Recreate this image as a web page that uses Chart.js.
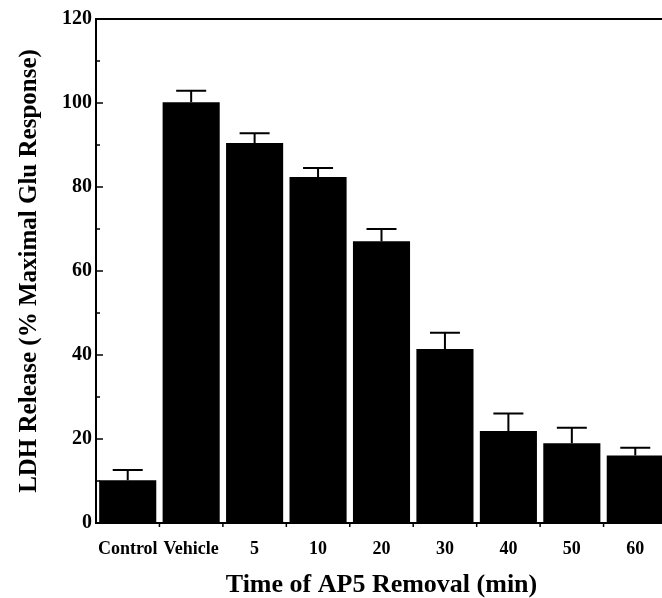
<!DOCTYPE html>
<html>
<head>
<meta charset="utf-8">
<script src="https://cdn.jsdelivr.net/npm/chart.js@4.4.1/dist/chart.umd.min.js"></script>
<style>
  html, body { margin: 0; padding: 0; overflow: hidden; background: #fff; }
  #wrap { width: 668px; height: 598px; }
</style>
</head>
<body>
<div id="wrap"><canvas id="myChart" width="668" height="598"></canvas></div>
<script>
// Datos
const categorias = ["Control", "Vehicle", "5", "10", "20", "30", "40", "50", "60"];
const valores = [10.2, 100.2, 90.5, 82.4, 67.1, 41.4, 21.9, 19.0, 16.1];
const errores = [2.4, 2.7, 2.3, 2.1, 2.9, 3.9, 4.2, 3.7, 1.8];
const ticksMayores = [0, 20, 40, 60, 80, 100, 120];
const ticksMenores = [10, 30, 50, 70, 90, 110];

const fuente = "'Liberation Serif', 'Times New Roman', serif";

// barras de error (solo hacia arriba)
const pluginErrores = {
  id: "errores",
  afterDatasetsDraw(chart) {
    const ctx = chart.ctx;
    const y = chart.scales.y;
    const meta = chart.getDatasetMeta(0);
    ctx.save();
    ctx.strokeStyle = "#000";
    ctx.lineWidth = 2;
    meta.data.forEach((bar, i) => {
      const yArriba = y.getPixelForValue(valores[i] + errores[i]);
      ctx.beginPath();
      ctx.moveTo(bar.x, bar.y);
      ctx.lineTo(bar.x, yArriba);
      ctx.moveTo(bar.x - 15, yArriba);
      ctx.lineTo(bar.x + 15, yArriba);
      ctx.stroke();
    });
    ctx.restore();
  },
};

// marco superior y ticks hacia dentro
const pluginMarco = {
  id: "marco",
  afterDraw(chart) {
    const ctx = chart.ctx;
    const area = chart.chartArea;
    const x = chart.scales.x;
    const y = chart.scales.y;
    ctx.save();
    ctx.strokeStyle = "#000";
    ctx.lineWidth = 2;
    ctx.beginPath();
    ctx.moveTo(area.left - 1, area.top);
    ctx.lineTo(chart.width, area.top);
    ctx.stroke();

    ctx.lineWidth = 1.5;
    ctx.beginPath();
    ticksMayores.forEach((v) => {
      const py = y.getPixelForValue(v);
      ctx.moveTo(area.left, py);
      ctx.lineTo(area.left + 7, py);
    });
    ticksMenores.forEach((v) => {
      const py = y.getPixelForValue(v);
      ctx.moveTo(area.left, py);
      ctx.lineTo(area.left + 4, py);
    });
    // ticks entre categorias
    for (let i = 0; i < categorias.length - 1; i++) {
      const px = (x.getPixelForValue(i) + x.getPixelForValue(i + 1)) / 2;
      ctx.moveTo(px, area.bottom);
      ctx.lineTo(px, area.bottom + 4);
    }
    ctx.stroke();
    ctx.restore();
  },
};

const ctx = document.getElementById("myChart").getContext("2d");

new Chart(ctx, {
  type: "bar",
  data: {
    labels: categorias,
    datasets: [
      {
        data: valores,
        backgroundColor: "#000",
        borderWidth: 0,
        barPercentage: 0.9,
        categoryPercentage: 1.0,
      },
    ],
  },
  options: {
    responsive: false,
    animation: false,
    devicePixelRatio: 1,
    layout: { padding: { top: 19, right: 1, bottom: 0, left: 0 } },
    plugins: {
      legend: { display: false },
      tooltip: { enabled: false },
    },
    scales: {
      x: {
        grid: { display: false, drawTicks: false },
        border: { display: true, color: "#000", width: 2 },
        ticks: {
          color: "#000",
          padding: 16,
          maxRotation: 0,
          autoSkip: false,
          font: { family: fuente, size: 18, weight: "bold" },
        },
        title: {
          display: true,
          text: "Time of AP5 Removal (min)",
          color: "#000",
          font: { family: fuente, size: 26, weight: "bold", lineHeight: 1 },
          padding: { top: 0, bottom: 0 },
        },
        afterFit: (s) => { s.height = 75; },
      },
      y: {
        min: 0,
        max: 120,
        grid: { display: false, drawTicks: false },
        border: { display: true, color: "#000", width: 2 },
        ticks: {
          stepSize: 20,
          color: "#000",
          padding: 4,
          font: { family: fuente, size: 20, weight: "bold" },
        },
        title: {
          display: true,
          text: "LDH Release (% Maximal Glu Response)",
          color: "#000",
          font: { family: fuente, size: 25, weight: "bold", lineHeight: 1.2 },
          padding: { top: 15, bottom: 0 },
        },
        afterFit: (s) => { s.width = 96; },
      },
    },
  },
  plugins: [pluginErrores, pluginMarco],
});
</script>
</body>
</html>
